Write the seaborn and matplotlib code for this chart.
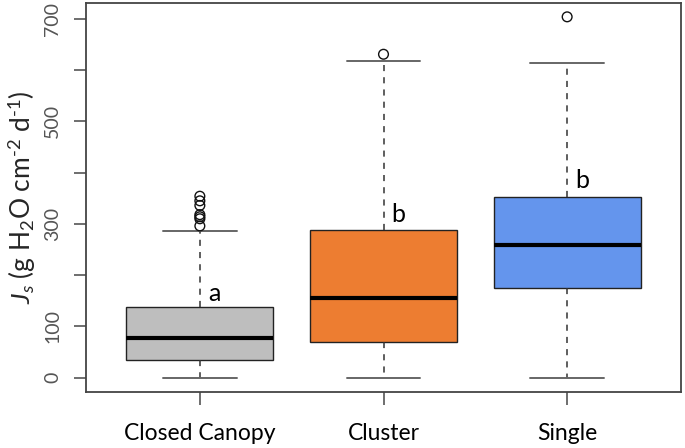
import numpy as np
import pandas as pd
import matplotlib
matplotlib.use("Agg")
import matplotlib.pyplot as plt
import seaborn as sns

# ---- data ----
groups = ["Closed Canopy", "Cluster", "Single"]
whisker_low = [0, 0, 0]
q1 = [35, 69, 174]
median = [78, 155, 258]
q3 = [138, 289, 352]
whisker_high = [287, 617, 614]
outliers_cc = [354, 345, 336, 318, 314, 310, 296]
outliers_cluster = [631]
outliers_single = [704]
sig_letters = ["a", "b", "b"]
letter_y = [164, 318, 384]
colors = ["#BEBEBE", "#ED7D31", "#6495ED"]
y_ticks = [0, 100, 200, 300, 400, 500, 600, 700]
y_ticklabels = ["0", "100", "", "300", "", "500", "", "700"]

# ---- tables ----
rows = []
for g, lo, a, m, b, hi in zip(groups, whisker_low, q1, median, q3, whisker_high):
    for v in (lo, a, m, b, hi):
        rows.append({"group": g, "value": v})
box_df = pd.DataFrame(rows)

out_rows = []
for g, vals in zip(groups, [outliers_cc, outliers_cluster, outliers_single]):
    for v in vals:
        out_rows.append({"group": g, "value": v})
out_df = pd.DataFrame(out_rows)

sns.set_theme(style="white")
plt.rcParams["font.family"] = ["Lato", "DejaVu Sans"]
plt.rcParams["mathtext.fontset"] = "custom"
plt.rcParams["mathtext.rm"] = "Lato"
plt.rcParams["mathtext.it"] = "Lato:italic"

fig = plt.figure(figsize=(6.85, 4.48), dpi=100)
ax = fig.add_axes([86 / 685, 1 - 392 / 448, (681 - 86) / 685, (392 - 3) / 448])

sns.boxplot(
    data=box_df, x="group", y="value", order=groups, hue="group",
    hue_order=groups, palette=colors, saturation=1, legend=False, width=0.8,
    whis=(0, 100), showfliers=False, ax=ax,
    boxprops=dict(edgecolor="#222222", linewidth=1.0),
    medianprops=dict(color="black", linewidth=3),
    whiskerprops=dict(color="#333333", linestyle=(0, (4, 4)), linewidth=1.1),
    capprops=dict(color="#666666", linewidth=1.4),
)

n_before = len(ax.collections)
sns.stripplot(
    data=out_df, x="group", y="value", order=groups, jitter=False,
    marker="o", size=7, color="black", linewidth=1.0, ax=ax,
)
for c in ax.collections[n_before:]:
    c.set_facecolor("none")
    c.set_edgecolor("#111111")
    c.set_linewidth(1.0)

for i, (lt, ly) in enumerate(zip(sig_letters, letter_y)):
    ax.text(i + 0.08, ly, lt, fontsize=18, ha="center", va="center", color="black")

ax.set_xlim(-0.62, 2.62)
ax.set_ylim(-28, 731)
ax.set_yticks(y_ticks)
ax.set_yticklabels(y_ticklabels, rotation=90, va="center", fontsize=14, color="#555555")
ax.set_xticks(range(len(groups)))
ax.set_xticklabels(groups, fontsize=16.5, color="black")
ax.set_xlabel("")
ax.set_ylabel(r"$\mathit{J}_s$ (g H$_2$O cm$^{\text{-}2}$ d$^{\text{-}1}$)", fontsize=19, labelpad=4)

ax.tick_params(axis="both", which="both", direction="out", length=9, width=1.2,
               color="#555555", left=True, bottom=True)
ax.tick_params(axis="x", pad=13)
ax.tick_params(axis="y", pad=9)
for s in ax.spines.values():
    s.set_visible(True)
    s.set_color("#444444")
    s.set_linewidth(1.3)

fig.savefig("out.png", dpi=100)
